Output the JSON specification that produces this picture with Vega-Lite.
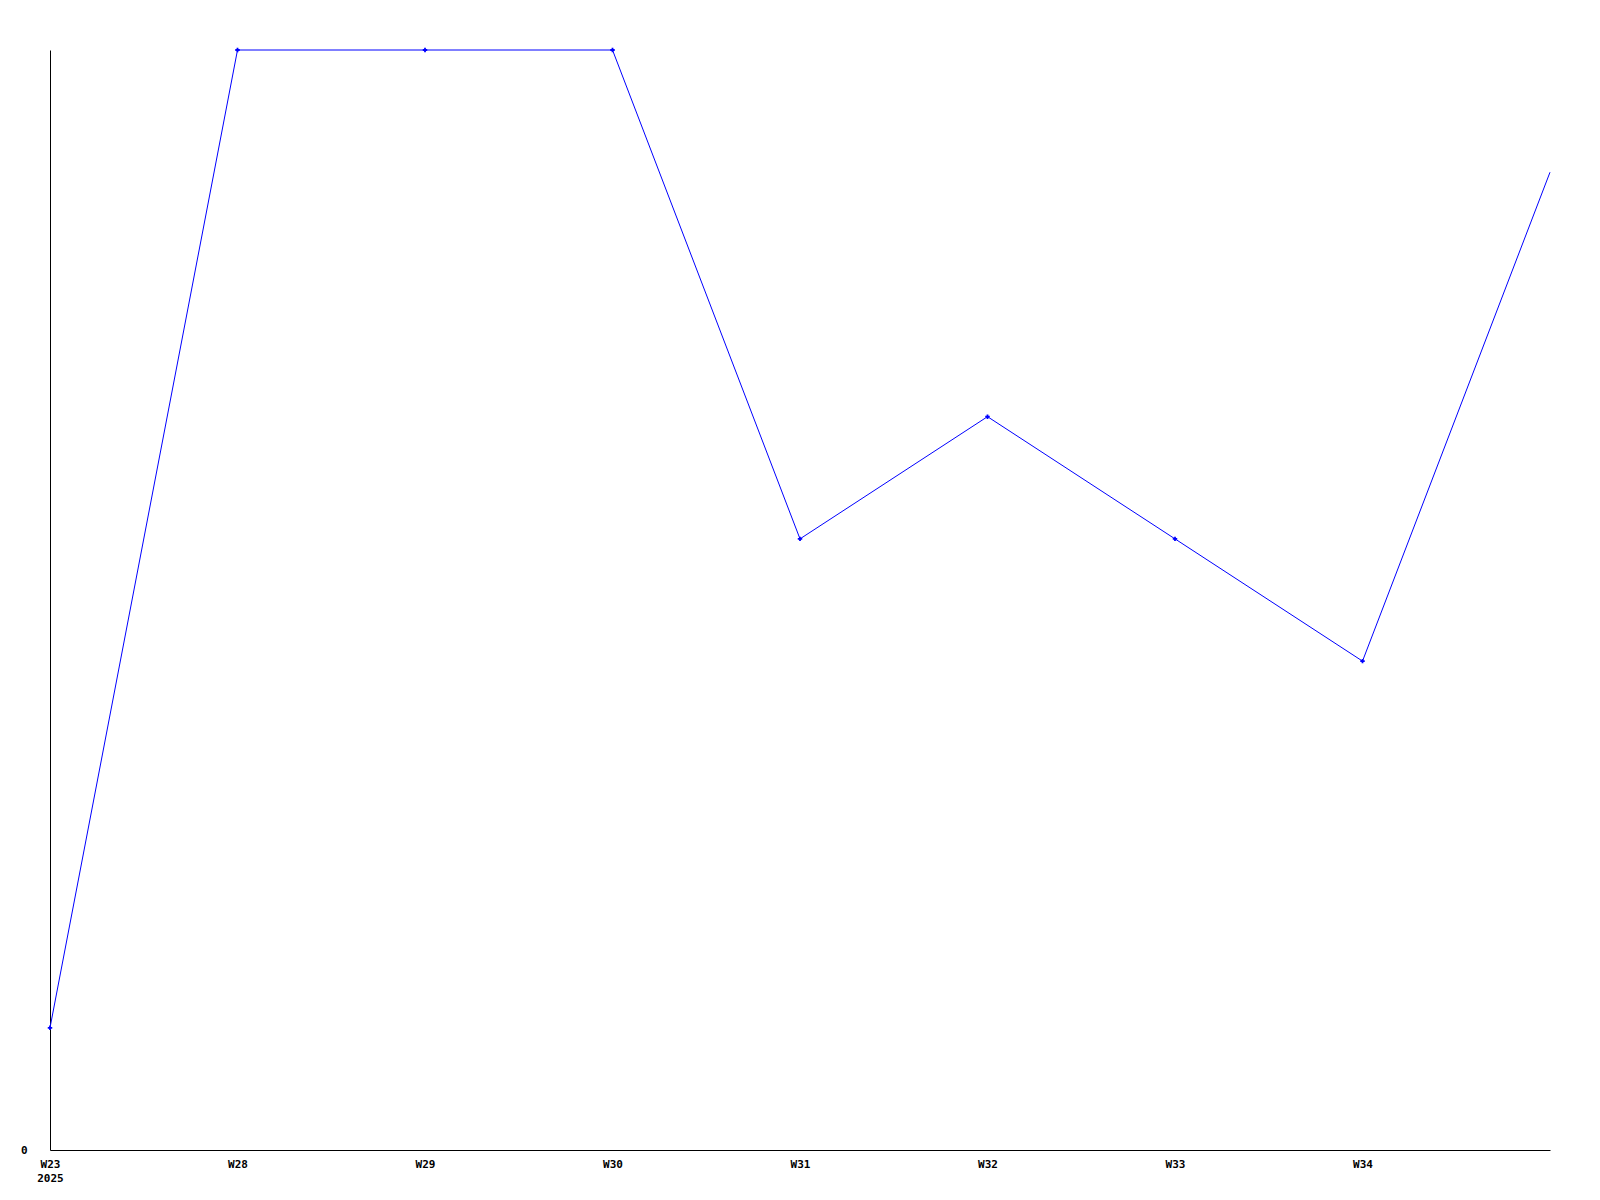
{
  "$schema": "https://vega.github.io/schema/vega-lite/v6.json",
  "width": 1500,
  "height": 1100,
  "autosize": {"type": "none"},
  "padding": {"left": 50, "top": 50, "right": 50, "bottom": 50},
  "background": "white",
  "config": {"view": {"stroke": null}},
  "data": {"values": [
    {"week": "W23", "value": 1},
    {"week": "W28", "value": 9},
    {"week": "W29", "value": 9},
    {"week": "W30", "value": 9},
    {"week": "W31", "value": 5},
    {"week": "W32", "value": 6},
    {"week": "W33", "value": 5},
    {"week": "W34", "value": 4},
    {"week": "W35", "value": 8}
  ]},
  "encoding": {
    "x": {
      "field": "week", "type": "ordinal", "sort": null,
      "scale": {"type": "point", "padding": 0},
      "axis": {
        "title": null, "ticks": false, "grid": false, "labelAngle": 0,
        "domainColor": "black", "domainWidth": 1,
        "labelFont": "DejaVu Sans Mono", "labelFontSize": 11, "labelFontWeight": "bold",
        "labelColor": "black", "labelPadding": 8, "labelLineHeight": 14,
        "labelExpr": "datum.value == 'W23' ? ['W23', '2025'] : (datum.value == 'W35' ? '' : datum.value)",
        "labelOverlap": false, "labelBaseline": "top"
      }
    },
    "y": {
      "field": "value", "type": "quantitative",
      "scale": {"domain": [0, 9], "nice": false, "zero": true},
      "axis": {
        "title": null, "ticks": false, "grid": false, "values": [0],
        "domainColor": "black", "domainWidth": 1,
        "labelFont": "DejaVu Sans Mono", "labelFontSize": 11, "labelFontWeight": "bold",
        "labelColor": "black", "labelPadding": 23
      }
    }
  },
  "layer": [
    {"mark": {"type": "line", "color": "#0000ff", "strokeWidth": 1}},
    {
      "transform": [{"filter": "datum.week != 'W35'"}],
      "mark": {"type": "point", "shape": "cross", "filled": true, "color": "#0000ff", "size": 20, "opacity": 1}
    }
  ]
}
